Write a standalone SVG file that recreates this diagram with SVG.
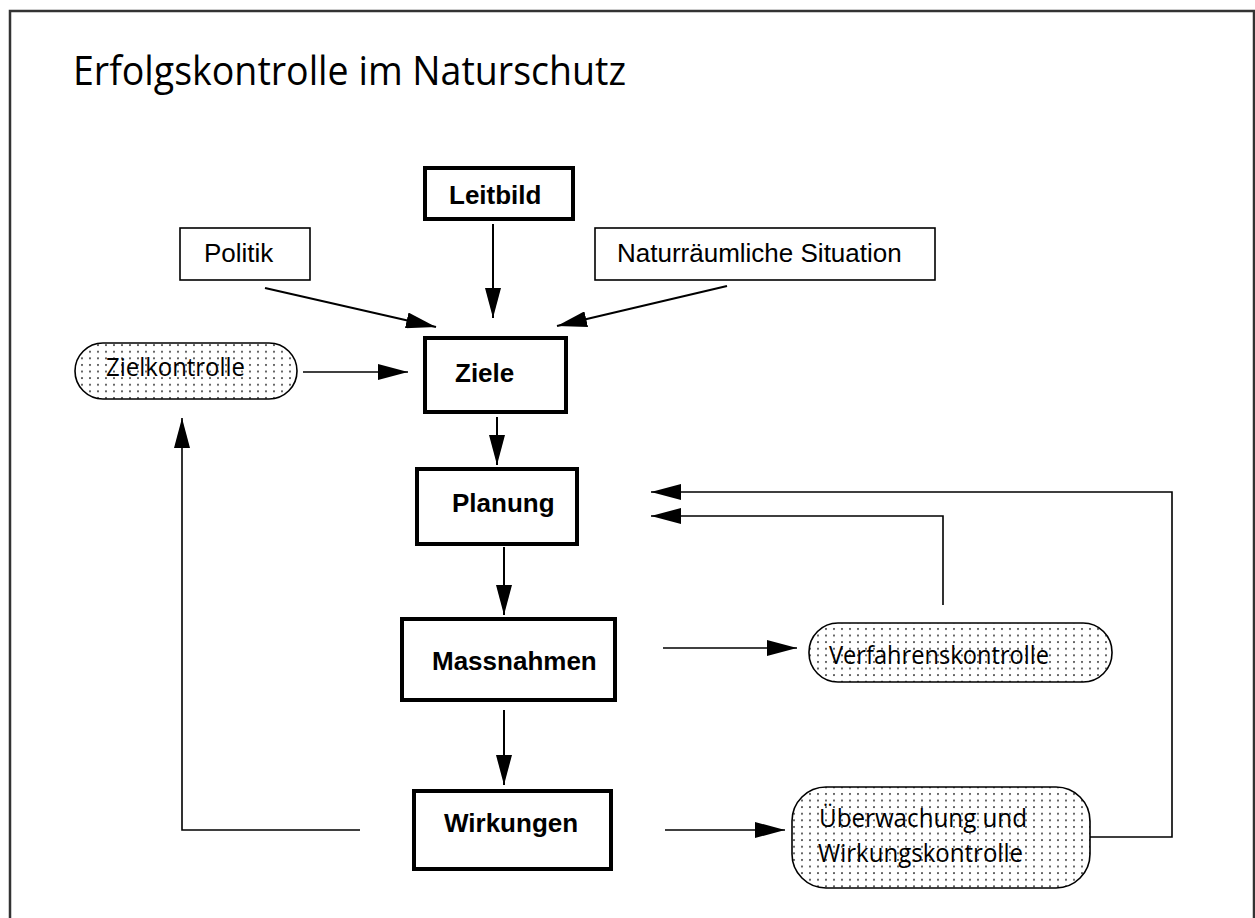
<svg xmlns="http://www.w3.org/2000/svg" width="1255" height="918" viewBox="0 0 1255 918">
  <style>
    .frame { fill: none; stroke: #333; stroke-width: 2.5; }
    .title { font-family: "Open Sans", "Liberation Sans", sans-serif; font-size: 41px; fill: #000; }
    .main { fill: #fff; stroke: #000; stroke-width: 4; }
    .side { fill: #fff; stroke: #000; stroke-width: 1.6; }
    .pill { fill: url(#dots); stroke: #000; stroke-width: 1.6; }
    .bold { font-family: "Liberation Sans", Arial, sans-serif; font-weight: bold; font-size: 26px; fill: #000; }
    .reg { font-family: "Liberation Sans", Arial, sans-serif; font-size: 26px; fill: #000; }
    .pt { font-family: "Open Sans", "Liberation Sans", sans-serif; font-size: 25px; fill: #000; }
    .conn { fill: none; stroke: #000; stroke-width: 1.6; }
    .conn2 { fill: none; stroke: #000; stroke-width: 2; }
  </style>
  <defs>
    <pattern id="dots" x="0" y="0" width="8" height="6.6" patternUnits="userSpaceOnUse">
      <rect width="8" height="6.6" fill="#fff"/>
      <circle cx="2" cy="2" r="1.05" fill="#444"/>
    </pattern>
    <marker id="ah" viewBox="0 0 30 16" refX="30" refY="8" markerWidth="30" markerHeight="16" markerUnits="userSpaceOnUse" orient="auto">
      <path d="M0,0 L30,8 L0,16 Z" fill="#000"/>
    </marker>
  </defs>

  <path class="frame" d="M10,920 V11 H1254 V920"/>
  <text class="title" x="73" y="85" textLength="553" lengthAdjust="spacingAndGlyphs">Erfolgskontrolle im Naturschutz</text>

  <g id="connectors">
    <line class="conn2" x1="493" y1="224" x2="493" y2="318" marker-end="url(#ah)"/>
    <line class="conn2" x1="265" y1="288" x2="436" y2="327" marker-end="url(#ah)"/>
    <line class="conn2" x1="727" y1="286" x2="557" y2="326" marker-end="url(#ah)"/>
    <line class="conn" x1="303" y1="372" x2="408" y2="372" marker-end="url(#ah)"/>
    <line class="conn2" x1="497" y1="417" x2="497" y2="465" marker-end="url(#ah)"/>
    <line class="conn2" x1="504" y1="547" x2="504" y2="615" marker-end="url(#ah)"/>
    <line class="conn2" x1="504" y1="710" x2="504" y2="785" marker-end="url(#ah)"/>
    <line class="conn" x1="663" y1="648" x2="797" y2="648" marker-end="url(#ah)"/>
    <line class="conn" x1="665" y1="830" x2="785" y2="830" marker-end="url(#ah)"/>
    <polyline class="conn" points="360,830 182,830 182,418" marker-end="url(#ah)"/>
    <polyline class="conn" points="943,605 943,516 651,516" marker-end="url(#ah)"/>
    <polyline class="conn" points="1090,837 1172,837 1172,492 651,492" marker-end="url(#ah)"/>
  </g>

  <g id="leitbild">
    <rect class="main" x="425" y="168" width="148" height="51"/>
    <text class="bold" x="449" y="204">Leitbild</text>
  </g>
  <g id="politik">
    <rect class="side" x="180" y="228" width="130" height="52"/>
    <text class="reg" x="204" y="262">Politik</text>
  </g>
  <g id="naturraum">
    <rect class="side" x="595" y="228" width="340" height="52"/>
    <text class="reg" x="617" y="262">Naturräumliche Situation</text>
  </g>
  <g id="ziele">
    <rect class="main" x="425" y="338" width="141" height="74"/>
    <text class="bold" x="455" y="382">Ziele</text>
  </g>
  <g id="zielkontrolle">
    <rect class="pill" x="75" y="343" width="222" height="56" rx="28" ry="28"/>
    <text class="pt" x="106" y="376" textLength="139" lengthAdjust="spacingAndGlyphs">Zielkontrolle</text>
  </g>
  <g id="planung">
    <rect class="main" x="417" y="469" width="160" height="75"/>
    <text class="bold" x="452" y="512">Planung</text>
  </g>
  <g id="massnahmen">
    <rect class="main" x="402" y="619" width="213" height="81"/>
    <text class="bold" x="432" y="670">Massnahmen</text>
  </g>
  <g id="verfahrenskontrolle">
    <rect class="pill" x="809" y="623" width="303" height="59" rx="29" ry="29"/>
    <text class="pt" x="829" y="664" textLength="220" lengthAdjust="spacingAndGlyphs">Verfahrenskontrolle</text>
  </g>
  <g id="wirkungen">
    <rect class="main" x="414" y="791" width="197" height="78"/>
    <text class="bold" x="444" y="832">Wirkungen</text>
  </g>
  <g id="ueberwachung">
    <rect class="pill" x="792" y="787" width="298" height="101" rx="34" ry="34"/>
    <text class="pt" x="819" y="827" textLength="208" lengthAdjust="spacingAndGlyphs">Überwachung und</text>
    <text class="pt" x="818" y="862" textLength="205" lengthAdjust="spacingAndGlyphs">Wirkungskontrolle</text>
  </g>
</svg>
